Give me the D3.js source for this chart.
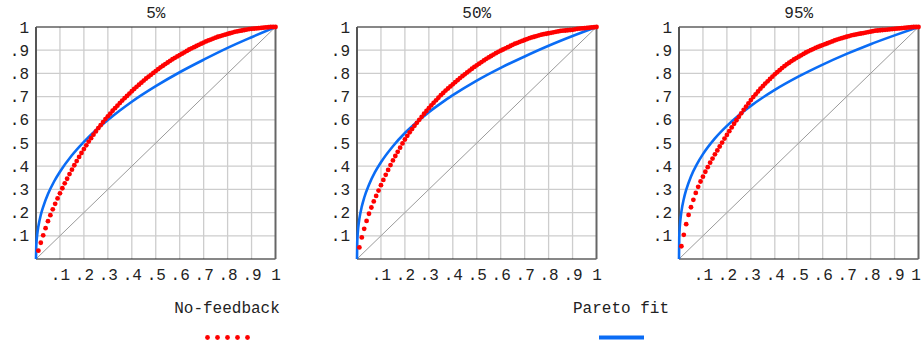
<!DOCTYPE html>
<html>
<head>
<meta charset="utf-8">
<script src="https://cdn.jsdelivr.net/npm/d3@7"></script>
<style>
    body { margin: 0; background: #fff; }
    text { font-family: "Liberation Mono", "DejaVu Sans Mono", monospace; fill: #222; }
</style>
</head>
<body>
<div id="chart"></div>
<script>

// panel titles
const panels = ["5%", "50%", "95%"];

// tick values and their labels (same on both axes)
const tickValues = [0.1, 0.2, 0.3, 0.4, 0.5, 0.6, 0.7, 0.8, 0.9, 1];
const tickLabels = [".1", ".2", ".3", ".4", ".5", ".6", ".7", ".8", ".9", "1"];

// share of population for the No-feedback dots (.01 ... 1.00)
const popShare = d3.range(1, 101).map(i => i / 100);

// No-feedback, one value per dot
const noFeedback5 = [
    .036, .070, .102, .133, .163, .189, .214, .238, .261, .283,
    .305, .326, .346, .366, .385, .404, .422, .440, .457, .474,
    .490, .506, .521, .536, .550, .564, .577, .590, .603, .615,
    .627, .639, .650, .661, .672, .683, .693, .703, .713, .723,
    .733, .742, .751, .760, .769, .778, .786, .794, .802, .810,
    .818, .826, .833, .840, .847, .854, .861, .867, .873, .879,
    .885, .891, .897, .903, .908, .913, .918, .923, .928, .933,
    .938, .942, .946, .950, .954, .958, .961, .964, .967, .970,
    .973, .976, .979, .981, .983, .985, .987, .989, .991, .992,
    .993, .994, .995, .996, .997, .998, .999, 1, 1, 1];

const noFeedback50 = [
    .050, .093, .130, .164, .195, .222, .248, .272, .295, .318,
    .341, .363, .384, .405, .425, .444, .462, .480, .498, .515,
    .531, .546, .560, .574, .587, .600, .613, .626, .638, .650,
    .662, .673, .684, .695, .706, .716, .726, .735, .744, .753,
    .762, .771, .780, .788, .796, .804, .812, .820, .828, .835,
    .842, .849, .856, .863, .869, .875, .881, .887, .893, .898,
    .903, .908, .913, .918, .923, .928, .932, .936, .940, .944,
    .948, .952, .955, .958, .961, .964, .967, .969, .971, .973,
    .975, .977, .979, .981, .983, .984, .985, .986, .987, .988,
    .990, .992, .993, .994, .995, .996, .997, .998, .999, 1];

const noFeedback95 = [
    .055, .104, .150, .190, .223, .255, .285, .311, .334, .355,
    .376, .396, .415, .433, .451, .468, .485, .502, .519, .535,
    .551, .567, .583, .598, .613, .628, .643, .657, .671, .685,
    .698, .710, .722, .734, .745, .756, .766, .776, .786, .796,
    .805, .814, .823, .831, .839, .846, .853, .860, .866, .872,
    .878, .884, .890, .895, .900, .905, .910, .914, .918, .922,
    .926, .930, .934, .938, .942, .946, .949, .952, .955, .958,
    .961, .964, .966, .968, .970, .972, .974, .976, .978, .980,
    .982, .984, .985, .986, .987, .988, .989, .990, .991, .992,
    .993, .994, .995, .996, .997, .998, .999, 1, 1, 1];

// Pareto fit curve, read at these population shares
const fitShare = [0, .001, .002, .005, .01, .02, .03, .05, .075, .1, .15, .2,
    .25, .3, .35, .4, .5, .6, .7, .8, .9, 1];
const pareto5 = [0, .053, .071, .105, .141, .190, .225, .280, .333, .376, .447, .505,
    .555, .599, .640, .678, .745, .805, .859, .910, .956, 1];
const pareto50 = [0, .072, .094, .134, .174, .226, .264, .320, .374, .417, .486, .543,
    .590, .633, .671, .706, .769, .824, .873, .919, .961, 1];
const pareto95 = [0, .092, .117, .161, .204, .259, .298, .356, .409, .452, .520, .574,
    .620, .660, .696, .729, .787, .838, .884, .926, .964, 1];

const dotSeries = [noFeedback5, noFeedback50, noFeedback95];
const fitSeries = [pareto5, pareto50, pareto95];

// layout
const W = 922, H = 347;
const panelLeft = [36, 357, 679];
const plotW = 239.5, plotH = 232, plotTop = 27;
const red = "#ff0000", blue = "#0a6cf5";

const svg = d3.select("#chart").append("svg")
    .attr("width", W)
    .attr("height", H);

panels.forEach((title, i) => {
    let g = svg.append("g")
        .attr("transform", "translate(" + panelLeft[i] + "," + plotTop + ")");

    let x = d3.scaleLinear().domain([0, 1]).range([0, plotW]);
    let y = d3.scaleLinear().domain([0, 1]).range([plotH, 0]);

    // grid
    g.append("g").selectAll("line.vgrid")
        .data(tickValues.slice(0, 9))
        .enter().append("line")
        .attr("x1", d => x(d)).attr("x2", d => x(d))
        .attr("y1", 0).attr("y2", plotH)
        .attr("stroke", "#cdcdcd").attr("stroke-width", 1.3);

    g.append("g").selectAll("line.hgrid")
        .data(tickValues.slice(0, 9))
        .enter().append("line")
        .attr("y1", d => y(d)).attr("y2", d => y(d))
        .attr("x1", 0).attr("x2", plotW)
        .attr("stroke", "#cdcdcd").attr("stroke-width", 1.3);

    // equality line
    g.append("line")
        .attr("x1", x(0)).attr("y1", y(0))
        .attr("x2", x(1)).attr("y2", y(1))
        .attr("stroke", "#9a9a9a").attr("stroke-width", 1);

    // frame
    g.append("line").attr("x1", 0).attr("x2", plotW).attr("y1", 0).attr("y2", 0)
        .attr("stroke", "#111").attr("stroke-width", 1.2);
    g.append("line").attr("x1", 0).attr("x2", plotW).attr("y1", plotH).attr("y2", plotH)
        .attr("stroke", "#111").attr("stroke-width", 1.2);
    g.append("line").attr("x1", 0).attr("x2", 0).attr("y1", 0).attr("y2", plotH)
        .attr("stroke", "#555").attr("stroke-width", 2);
    g.append("line").attr("x1", plotW).attr("x2", plotW).attr("y1", 0).attr("y2", plotH)
        .attr("stroke", "#666").attr("stroke-width", 2);

    // axes (labels only)
    let yAxis = d3.axisLeft(y).tickValues(tickValues)
        .tickFormat((d, k) => tickLabels[k]).tickSize(0).tickPadding(7);
    let xAxis = d3.axisBottom(x).tickValues(tickValues)
        .tickFormat((d, k) => tickLabels[k]).tickSize(0).tickPadding(10);

    let ya = g.append("g").attr("class", "y-axis").call(yAxis);
    let xa = g.append("g").attr("class", "x-axis")
        .attr("transform", "translate(0," + plotH + ")").call(xAxis);
    [ya, xa].forEach(a => {
        a.select(".domain").remove();
        a.selectAll("text").style("font-size", "16px").attr("fill", "#222")
            .style("font-family", "'Liberation Mono', monospace");
    });

    // last x label of the right panel would run past the edge
    if (i === 2) {
        xa.selectAll("text").filter(d => d === 1).attr("dx", "-3");
    }

    // Pareto fit
    let line = d3.line()
        .x((d, k) => x(fitShare[k]))
        .y(d => y(d))
        .curve(d3.curveMonotoneX);

    g.append("path")
        .datum(fitSeries[i])
        .attr("d", line)
        .attr("fill", "none")
        .attr("stroke", blue)
        .attr("stroke-width", 2.6);

    // No-feedback dots
    g.append("g").selectAll("circle")
        .data(dotSeries[i])
        .enter().append("circle")
        .attr("cx", (d, k) => x(popShare[k]))
        .attr("cy", d => y(d))
        .attr("r", 2.4)
        .attr("fill", red);

    // title
    g.append("text")
        .attr("x", plotW / 2)
        .attr("y", -9)
        .attr("text-anchor", "middle")
        .style("font-size", "16px")
        .text(title);
});

// legend
let legend = svg.append("g").attr("class", "legend");

legend.append("text")
    .attr("x", 227).attr("y", 313)
    .attr("text-anchor", "middle")
    .style("font-size", "16px")
    .text("No-feedback");

legend.selectAll("circle")
    .data([0, 1, 2, 3, 4])
    .enter().append("circle")
    .attr("cx", d => 207.5 + d * 10)
    .attr("cy", 337.5)
    .attr("r", 2.4)
    .attr("fill", red);

legend.append("text")
    .attr("x", 621).attr("y", 313)
    .attr("text-anchor", "middle")
    .style("font-size", "16px")
    .text("Pareto fit");

legend.append("line")
    .attr("x1", 599).attr("x2", 644)
    .attr("y1", 337.5).attr("y2", 337.5)
    .attr("stroke", blue)
    .attr("stroke-width", 4);

</script>
</body>
</html>
